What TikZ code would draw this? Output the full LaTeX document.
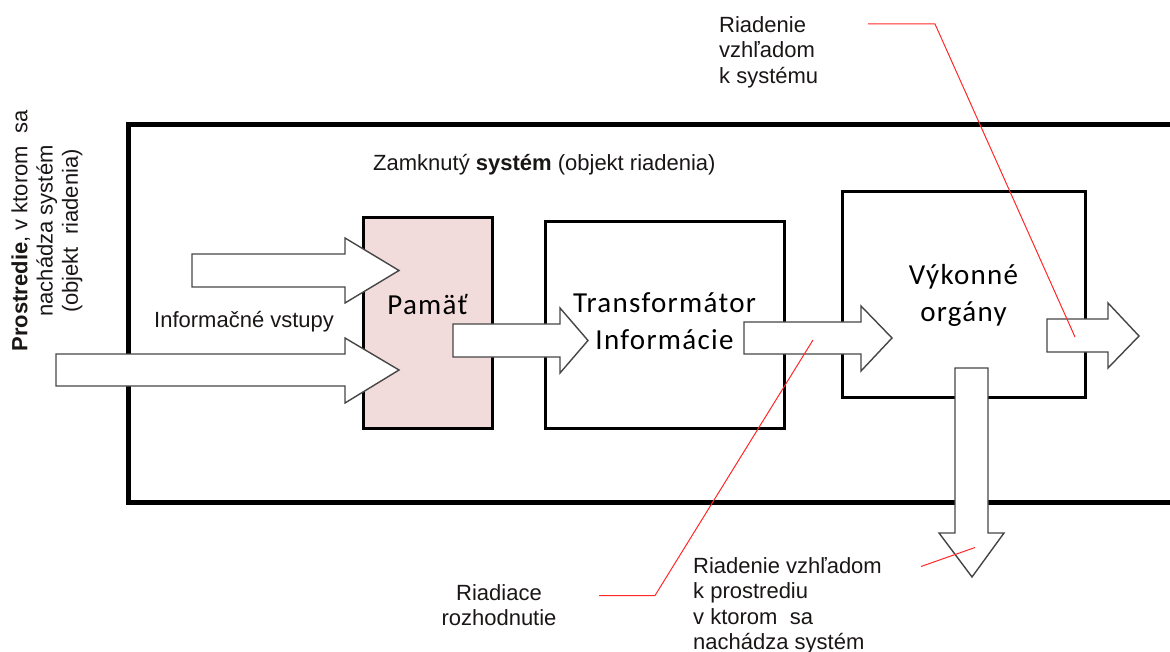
\documentclass[tikz,border=0pt]{standalone}
\usepackage{fontspec}
\setmainfont{Liberation Sans}
\newfontfamily\calfont[LetterSpace=4.5]{Carlito}
\definecolor{txt}{RGB}{26,22,22}
\definecolor{pinkfill}{RGB}{242,220,219}
\definecolor{arrowline}{RGB}{70,70,70}
\definecolor{redline}{RGB}{255,40,40}
\begin{document}
\begin{tikzpicture}[x=1pt,y=-1pt,
  lbl/.style={inner sep=0pt,text=txt,font=\fontsize{22}{25.3}\selectfont},
  boxtxt/.style={text=black,font=\calfont\fontsize{29}{37}\selectfont,align=center},
  unitbox/.style={draw=black,line width=3pt,inner sep=0pt},
  barrow/.style={draw=arrowline,fill=white,line width=1.4pt,line join=miter},
  callout/.style={draw=redline,line width=1pt}]
\useasboundingbox (0,0) rectangle (1170,652);
% outer system frame
\begin{scope}
\clip (0,0) rectangle (1170,652);
\draw[line width=5pt] (128,125) rectangle (1190,502);
\end{scope}
% units
\node[unitbox,fill=pinkfill,minimum width=129pt,minimum height=210pt] (pam) at (427.5,323) {};
\node[unitbox,fill=white,minimum width=239pt,minimum height=206pt] (trans) at (664.5,325) {};
\node[unitbox,fill=white,minimum width=243pt,minimum height=205pt] (vyk) at (963.5,294.5) {};
\node[boxtxt,anchor=base] (pamt) at (427.5,315) {Pamäť};
\node[boxtxt,anchor=base] (trt1) at (664.5,312.5) {Transformátor};
\node[boxtxt,anchor=base] (trt2) at (664.5,349.5) {Informácie};
\node[boxtxt,anchor=base] (vyt1) at (963.5,285) {Výkonné};
\node[boxtxt,anchor=base] (vyt2) at (963.5,321.5) {orgány};
% block arrows
\draw[barrow] (192,254) -- (345,254) -- (345,238) -- (399,270.5) -- (345,303) -- (345,287) -- (192,287) -- cycle;
\draw[barrow] (56,354) -- (345,354) -- (345,338) -- (399,370) -- (345,403) -- (345,386) -- (56,386) -- cycle;
\draw[barrow] (453,324) -- (560,324) -- (560,308) -- (588,340.5) -- (560,373) -- (560,357) -- (453,357) -- cycle;
\draw[barrow] (744,322) -- (861,322) -- (861,306) -- (892,338) -- (861,371) -- (861,354) -- (744,354) -- cycle;
\draw[barrow] (1047,319) -- (1108,319) -- (1108,303) -- (1139,336) -- (1108,368) -- (1108,352) -- (1047,352) -- cycle;
\draw[barrow] (955,368) -- (988,368) -- (988,533) -- (1004,533) -- (972,577) -- (939,533) -- (955,533) -- cycle;
% labels
\node[lbl,anchor=base west] (zam) at (373,170.5) {Zamknutý \textbf{systém} (objekt riadenia)};
\node[lbl,anchor=base west] (inf) at (154,327.5) {Informačné vstupy};
\node[lbl,align=left,anchor=north west] (rs) at (719,16.5) {Riadenie\\vzhľadom\\k systému};
\node[lbl,align=center,anchor=north] (rr) at (499,584.5) {Riadiace\\rozhodnutie};
\node[lbl,align=left,anchor=north west] (rp) at (693,557.5) {Riadenie vzhľadom\\k prostrediu\\v ktorom\ \ sa\\nachádza systém};
\node[lbl,align=center,rotate=90,anchor=center] (env) at (47,231) {\textbf{Prostredie}, v ktorom\ \ sa\\nachádza systém\\(objekt\ \ riadenia)};
% red callout lines
\coordinate (c1) at (1075,337);
\coordinate (c2) at (813,340);
\coordinate (c3) at (975,547.5);
\draw[callout] (868,24) -- (935,24) -- (c1);
\draw[callout] (599,595.5) -- (655,595.5) -- (c2);
\draw[callout] (921,566.5) -- (c3);
\end{tikzpicture}
\end{document}
